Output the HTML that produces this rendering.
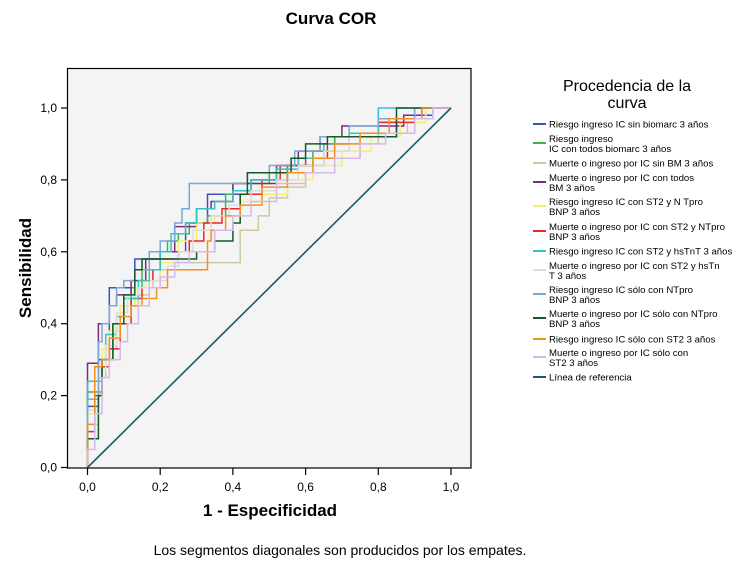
<!DOCTYPE html>
<html><head><meta charset="utf-8"><style>
body{margin:0;background:#fff;}
svg{display:block;font-family:"Liberation Sans",Arial,sans-serif;}
</style></head><body>
<svg id="chart" width="750" height="567" viewBox="0 0 750 567">
<text x="331" y="24" text-anchor="middle" font-size="17" font-weight="bold">Curva COR</text>
<rect x="67.5" y="68.5" width="403.5" height="399.5" fill="#f4f4f4" stroke="#000" stroke-width="1.2"/>
<g id="axes"></g>
<g id="curves"></g>
<text transform="translate(31,268) rotate(-90)" text-anchor="middle" font-size="17" font-weight="bold">Sensibilidad</text>
<text x="270" y="516" text-anchor="middle" font-size="17" font-weight="bold">1 - Especificidad</text>
<text x="340" y="555" text-anchor="middle" font-size="14">Los segmentos diagonales son producidos por los empates.</text>
<g>
<text x="627" y="91" text-anchor="middle" font-size="16">Procedencia de la</text>
<text x="627" y="108" text-anchor="middle" font-size="16">curva</text>
<g id="legend-items"></g>
</g>
</svg>
<script>
const tickValues = [0, 0.2, 0.4, 0.6, 0.8, 1.0];
const tickLabels = ["0,0", "0,2", "0,4", "0,6", "0,8", "1,0"];
const seriesNames = [
 ["Riesgo ingreso IC sin biomarc 3 años"],
 ["Riesgo ingreso","IC con todos biomarc 3 años"],
 ["Muerte o ingreso por IC sin BM 3 años"],
 ["Muerte o ingreso por IC con todos","BM 3 años"],
 ["Riesgo ingreso IC con ST2 y N Tpro","BNP 3 años"],
 ["Muerte o ingreso por IC con ST2 y NTpro","BNP 3 años"],
 ["Riesgo ingreso IC con ST2 y hsTnT 3 años"],
 ["Muerte o ingreso por IC con ST2 y hsTn","T 3 años"],
 ["Riesgo ingreso IC sólo con NTpro","BNP 3 años"],
 ["Muerte o ingreso por IC sólo con NTpro","BNP 3 años"],
 ["Riesgo ingreso IC sólo con ST2 3 años"],
 ["Muerte o ingreso por IC sólo con","ST2 3 años"],
 ["Línea de referencia"]
];
const seriesColors = ["#3a52c4","#3cb44a","#cfc9a0","#7b2a86","#f5f06a","#e8262c","#35c4c4","#dcdcdc","#78a8d8","#145a28","#f5901e","#d8b8ec","#1a5a6e"];
const s1 = [[0,0],[0,0.17],[0.03,0.17],[0.03,0.3],[0.06,0.3],[0.06,0.42],[0.1,0.5],[0.13,0.5],[0.13,0.55],[0.2,0.58],[0.25,0.6],[0.27,0.6],[0.27,0.68],[0.33,0.68],[0.33,0.76],[0.45,0.76],[0.45,0.8],[0.55,0.8],[0.57,0.84],[0.65,0.84],[0.68,0.9],[0.85,0.92],[0.9,0.97],[0.95,0.98],[1,1]];
const s2 = [[0,0],[0,0.21],[0.04,0.21],[0.04,0.3],[0.07,0.3],[0.07,0.38],[0.1,0.4],[0.12,0.45],[0.15,0.5],[0.2,0.55],[0.22,0.6],[0.25,0.63],[0.28,0.65],[0.33,0.68],[0.38,0.7],[0.4,0.76],[0.44,0.79],[0.5,0.79],[0.55,0.82],[0.62,0.84],[0.68,0.88],[0.8,0.92],[0.9,0.96],[1,1]];
const s3 = [[0,0],[0,0.12],[0.03,0.12],[0.05,0.25],[0.08,0.33],[0.1,0.4],[0.14,0.45],[0.17,0.48],[0.2,0.52],[0.24,0.55],[0.27,0.57],[0.42,0.57],[0.42,0.63],[0.47,0.66],[0.5,0.7],[0.55,0.75],[0.6,0.78],[0.68,0.82],[0.75,0.86],[0.8,0.9],[0.88,0.93],[0.93,0.96],[1,1]];
const s4 = [[0,0],[0,0.29],[0.03,0.29],[0.03,0.37],[0.06,0.4],[0.08,0.45],[0.12,0.48],[0.16,0.52],[0.2,0.58],[0.24,0.6],[0.3,0.67],[0.34,0.72],[0.4,0.74],[0.45,0.79],[0.52,0.79],[0.58,0.84],[0.64,0.88],[0.7,0.92],[0.76,0.95],[0.87,0.95],[0.92,0.98],[1,1]];
const s5 = [[0,0],[0,0.15],[0.02,0.15],[0.04,0.28],[0.06,0.33],[0.09,0.38],[0.13,0.45],[0.16,0.5],[0.2,0.52],[0.25,0.57],[0.3,0.63],[0.35,0.68],[0.42,0.7],[0.48,0.74],[0.55,0.76],[0.62,0.8],[0.7,0.84],[0.78,0.88],[0.86,0.92],[0.93,0.96],[1,1]];
const s6 = [[0,0],[0,0.1],[0.02,0.1],[0.04,0.2],[0.06,0.28],[0.09,0.33],[0.12,0.4],[0.15,0.47],[0.18,0.5],[0.2,0.55],[0.25,0.58],[0.28,0.6],[0.32,0.63],[0.37,0.68],[0.42,0.72],[0.48,0.76],[0.53,0.8],[0.6,0.84],[0.66,0.86],[0.72,0.9],[0.8,0.93],[0.9,0.96],[1,1]];
const s7 = [[0,0],[0,0.24],[0.04,0.24],[0.05,0.3],[0.08,0.37],[0.1,0.42],[0.14,0.47],[0.17,0.52],[0.2,0.55],[0.23,0.6],[0.27,0.65],[0.3,0.68],[0.35,0.72],[0.4,0.74],[0.45,0.77],[0.52,0.8],[0.58,0.83],[0.65,0.86],[0.72,0.9],[0.8,0.93],[0.9,1],[0.95,1],[1,1]];
const s8 = [[0,0],[0,0.16],[0.03,0.16],[0.05,0.27],[0.08,0.34],[0.11,0.43],[0.14,0.48],[0.18,0.5],[0.22,0.52],[0.25,0.56],[0.29,0.6],[0.34,0.66],[0.39,0.7],[0.45,0.73],[0.52,0.77],[0.58,0.8],[0.65,0.84],[0.72,0.88],[0.8,0.95],[0.9,0.97],[1,1]];
const s9 = [[0,0],[0,0.19],[0.03,0.19],[0.04,0.35],[0.06,0.4],[0.08,0.45],[0.1,0.5],[0.13,0.52],[0.17,0.55],[0.2,0.6],[0.24,0.63],[0.26,0.68],[0.28,0.72],[0.29,0.79],[0.36,0.79],[0.44,0.79],[0.5,0.82],[0.57,0.84],[0.64,0.88],[0.72,0.92],[0.8,0.95],[0.9,0.97],[1,1]];
const s10 = [[0,0],[0,0.08],[0.03,0.08],[0.04,0.2],[0.07,0.3],[0.1,0.4],[0.13,0.48],[0.15,0.55],[0.18,0.58],[0.27,0.58],[0.3,0.58],[0.35,0.6],[0.4,0.63],[0.42,0.68],[0.44,0.76],[0.5,0.82],[0.56,0.82],[0.6,0.86],[0.66,0.9],[0.73,0.92],[0.85,0.92],[0.92,1],[0.95,1],[1,1]];
const s11 = [[0,0],[0,0.12],[0.02,0.12],[0.04,0.28],[0.06,0.3],[0.09,0.36],[0.12,0.42],[0.15,0.45],[0.19,0.47],[0.22,0.5],[0.25,0.55],[0.33,0.55],[0.34,0.63],[0.38,0.66],[0.42,0.7],[0.48,0.73],[0.55,0.78],[0.62,0.82],[0.68,0.86],[0.75,0.9],[0.83,0.93],[0.92,0.97],[1,1]];
const s12 = [[0,0],[0.02,0.05],[0.04,0.15],[0.06,0.25],[0.09,0.3],[0.11,0.35],[0.14,0.4],[0.17,0.45],[0.2,0.5],[0.24,0.53],[0.28,0.57],[0.35,0.6],[0.4,0.66],[0.45,0.7],[0.52,0.74],[0.6,0.79],[0.68,0.82],[0.75,0.86],[0.82,0.9],[0.9,0.93],[0.95,0.97],[1,1]];
const refLine = [[0,0],[1,1]];
const allSeries = [s1,s2,s3,s4,s5,s6,s7,s8,s9,s10,s11,s12,refLine];

const NS = "http://www.w3.org/2000/svg";
const X0 = 87.5, X1 = 451, Y0 = 467.5, Y1 = 108;
function xs(v){ return X0 + v*(X1-X0); }
function ys(v){ return Y0 - v*(Y0-Y1); }

const axes = document.getElementById("axes");
tickValues.forEach((t,i)=>{
  const xt = document.createElementNS(NS,"line");
  xt.setAttribute("x1",xs(t)); xt.setAttribute("x2",xs(t));
  xt.setAttribute("y1",468); xt.setAttribute("y2",475);
  xt.setAttribute("stroke","#000"); xt.setAttribute("stroke-width","1.2");
  
  
  axes.appendChild(xt);
  const xl = document.createElementNS(NS,"text");
  xl.setAttribute("x",xs(t)); xl.setAttribute("y",491);
  xl.setAttribute("text-anchor","middle"); xl.setAttribute("font-size","12");
  xl.textContent = tickLabels[i];
  
  
  axes.appendChild(xl);
  const yt = document.createElementNS(NS,"line");
  yt.setAttribute("x1",61); yt.setAttribute("x2",67.5);
  yt.setAttribute("y1",ys(t)); yt.setAttribute("y2",ys(t));
  yt.setAttribute("stroke","#000"); yt.setAttribute("stroke-width","1.2");
  
  
  axes.appendChild(yt);
  const yl = document.createElementNS(NS,"text");
  yl.setAttribute("x",57); yl.setAttribute("y",ys(t)+4);
  yl.setAttribute("text-anchor","end"); yl.setAttribute("font-size","12");
  yl.textContent = tickLabels[i];
  
  
  axes.appendChild(yl);
});

function stepPoints(s){
  const out = [[s[0][0], s[0][1]]];
  for (let k=1; k<s.length; k++){
    const a = s[k-1], b = s[k];
    if (a[0]!==b[0] && a[1]!==b[1]) out.push([a[0], b[1]]);
    out.push([b[0], b[1]]);
  }
  return out;
}

const curves = document.getElementById("curves");
allSeries.forEach((s,i)=>{
  const pts = i===12 ? s : stepPoints(s);
  const p = document.createElementNS(NS,"polyline");
  p.setAttribute("points", pts.map(d=>xs(d[0]).toFixed(1)+","+ys(d[1]).toFixed(1)).join(" "));
  p.setAttribute("fill","none");
  p.setAttribute("stroke",seriesColors[i]);
  p.setAttribute("stroke-width", i===12 ? "1.6" : "1.5");
  
  
  curves.appendChild(p);
});

const legendY = [124,143,163,182,206,231,251,270,294,318,339,357,377];
const legendItems = document.getElementById("legend-items");
seriesNames.forEach((lines,i)=>{
  const g = document.createElementNS(NS,"g");
  
  
  const l = document.createElementNS(NS,"line");
  l.setAttribute("x1",533); l.setAttribute("x2",546);
  l.setAttribute("y1",legendY[i]); l.setAttribute("y2",legendY[i]);
  l.setAttribute("stroke",seriesColors[i]); l.setAttribute("stroke-width","2");
  
  
  g.appendChild(l);
  const top = lines.length===1 ? legendY[i]+3.5 : legendY[i]-1;
  lines.forEach((txt,j)=>{
    const t = document.createElementNS(NS,"text");
    t.setAttribute("x",549); t.setAttribute("y",top + j*9.8);
    t.setAttribute("font-size","9.6");
    t.textContent = txt;
    
    
    g.appendChild(t);
  });
  legendItems.appendChild(g);
});
</script>
</body></html>
